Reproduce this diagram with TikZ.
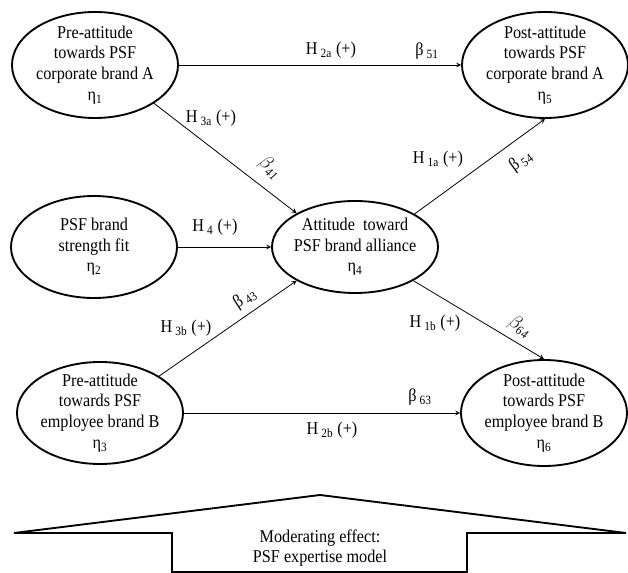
\documentclass[tikz,border=0pt]{standalone}
\usepackage{fontspec}
\setmainfont{Liberation Serif}[FakeStretch=0.9]
\usetikzlibrary{shapes.geometric, arrows}
\newcommand{\hyp}[1]{H\,\textsubscript{#1} (+)}
\tikzset{>=stealth, % small filled arrow heads
	latent/.style={ellipse, draw, line width=1.4pt, minimum width=124.5pt, minimum height=79.5pt, inner sep=0pt}, % the eta constructs
	inner/.style={align=center, font=\fontsize{13.5}{15.5}\selectfont},
	link/.style={->, line width=0.6pt},
	coef/.style={font=\fontsize{13.5}{15}\selectfont},
}
\begin{document}
\begin{tikzpicture}[x=0.75pt, y=-0.75pt]
	\useasboundingbox (0,0) rectangle (628,573);
	% Pre-attitudes on the left, post-attitudes on the right
	\node[latent, label={[inner]center:{Pre-attitude\\towards PSF\\corporate brand A\\η\textsubscript{1}}}] (eta1) at (95,65) {};
	\node[latent, minimum height=76.5pt, label={[inner]center:{PSF brand\\strength fit\\η\textsubscript{2}}}] (eta2) at (94,247) {};
	\node[latent, minimum height=76.5pt, label={[inner]center:{Pre-attitude\\towards PSF\\employee brand B\\η\textsubscript{3}}}] (eta3) at (100,413) {};
	\node[latent, minimum height=69pt, label={[inner]center:{Attitude~ toward\\PSF brand alliance\\η\textsubscript{4}}}] (eta4) at (355,247) {};
	\node[latent, label={[inner]center:{Post-attitude\\towards PSF\\corporate brand A\\η\textsubscript{5}}}] (eta5) at (545,65) {};
	\node[latent, label={[inner]center:{Post-attitude\\towards PSF\\employee brand B\\η\textsubscript{6}}}] (eta6) at (544,413) {};

	%% direct paths
	\draw[link] (eta1) -- (eta5);
	\draw[link] (eta3) -- (eta6);
	\node[coef] (h2a) at (331,50) {\hyp{2a}};
	\node[coef] (b51) at (427,51) {β\,\textsubscript{51}};
	\node[coef] (b63) at (420,397) {β\,\textsubscript{63}};
	\node[coef] (h2b) at (332,430) {\hyp{2b}};

	%% into the alliance
	\draw[link] (eta1.-33) -- (eta4.150);
	\draw[link] (eta2) -- (eta4);
	\draw[link] (eta3.32) -- (eta4.210);
	\node[coef] (h3a) at (211,118) {\hyp{3a}};
	\node[coef, rotate=-40] (b41) at (270,168) {$\beta_{\mathit{41}}$};
	\node[coef] (h4) at (215,227) {\hyp{4}};
	\node[coef] (h3b) at (186,328) {\hyp{3b}};
	\node[coef, rotate=33] (b43) at (245,298) {β\,\textsubscript{43}};

	%% out of the alliance
	\draw[link] (eta4.29) -- (eta5.south);
	\draw[link] (eta4.-30) -- (eta6.north);
	\node[coef] (h1a) at (438,159) {\hyp{1a}};
	\node[coef, rotate=36] (b54) at (521,161) {β\,\textsubscript{54}};
	\node[coef] (h1b) at (435,323) {\hyp{1b}};
	\node[coef, rotate=-32] (b64) at (520,327) {$\beta_{\mathit{64}}$};

	%% moderator arrow
	\draw[line width=1.4pt] (14,533) -- (320,495) -- (626,533) -- (467,533) -- (467,572) -- (172,572) -- (172,533) -- cycle;
	\node[inner] (moder) at (320,548) {Moderating effect:\\PSF expertise model};
\end{tikzpicture}
\end{document}
